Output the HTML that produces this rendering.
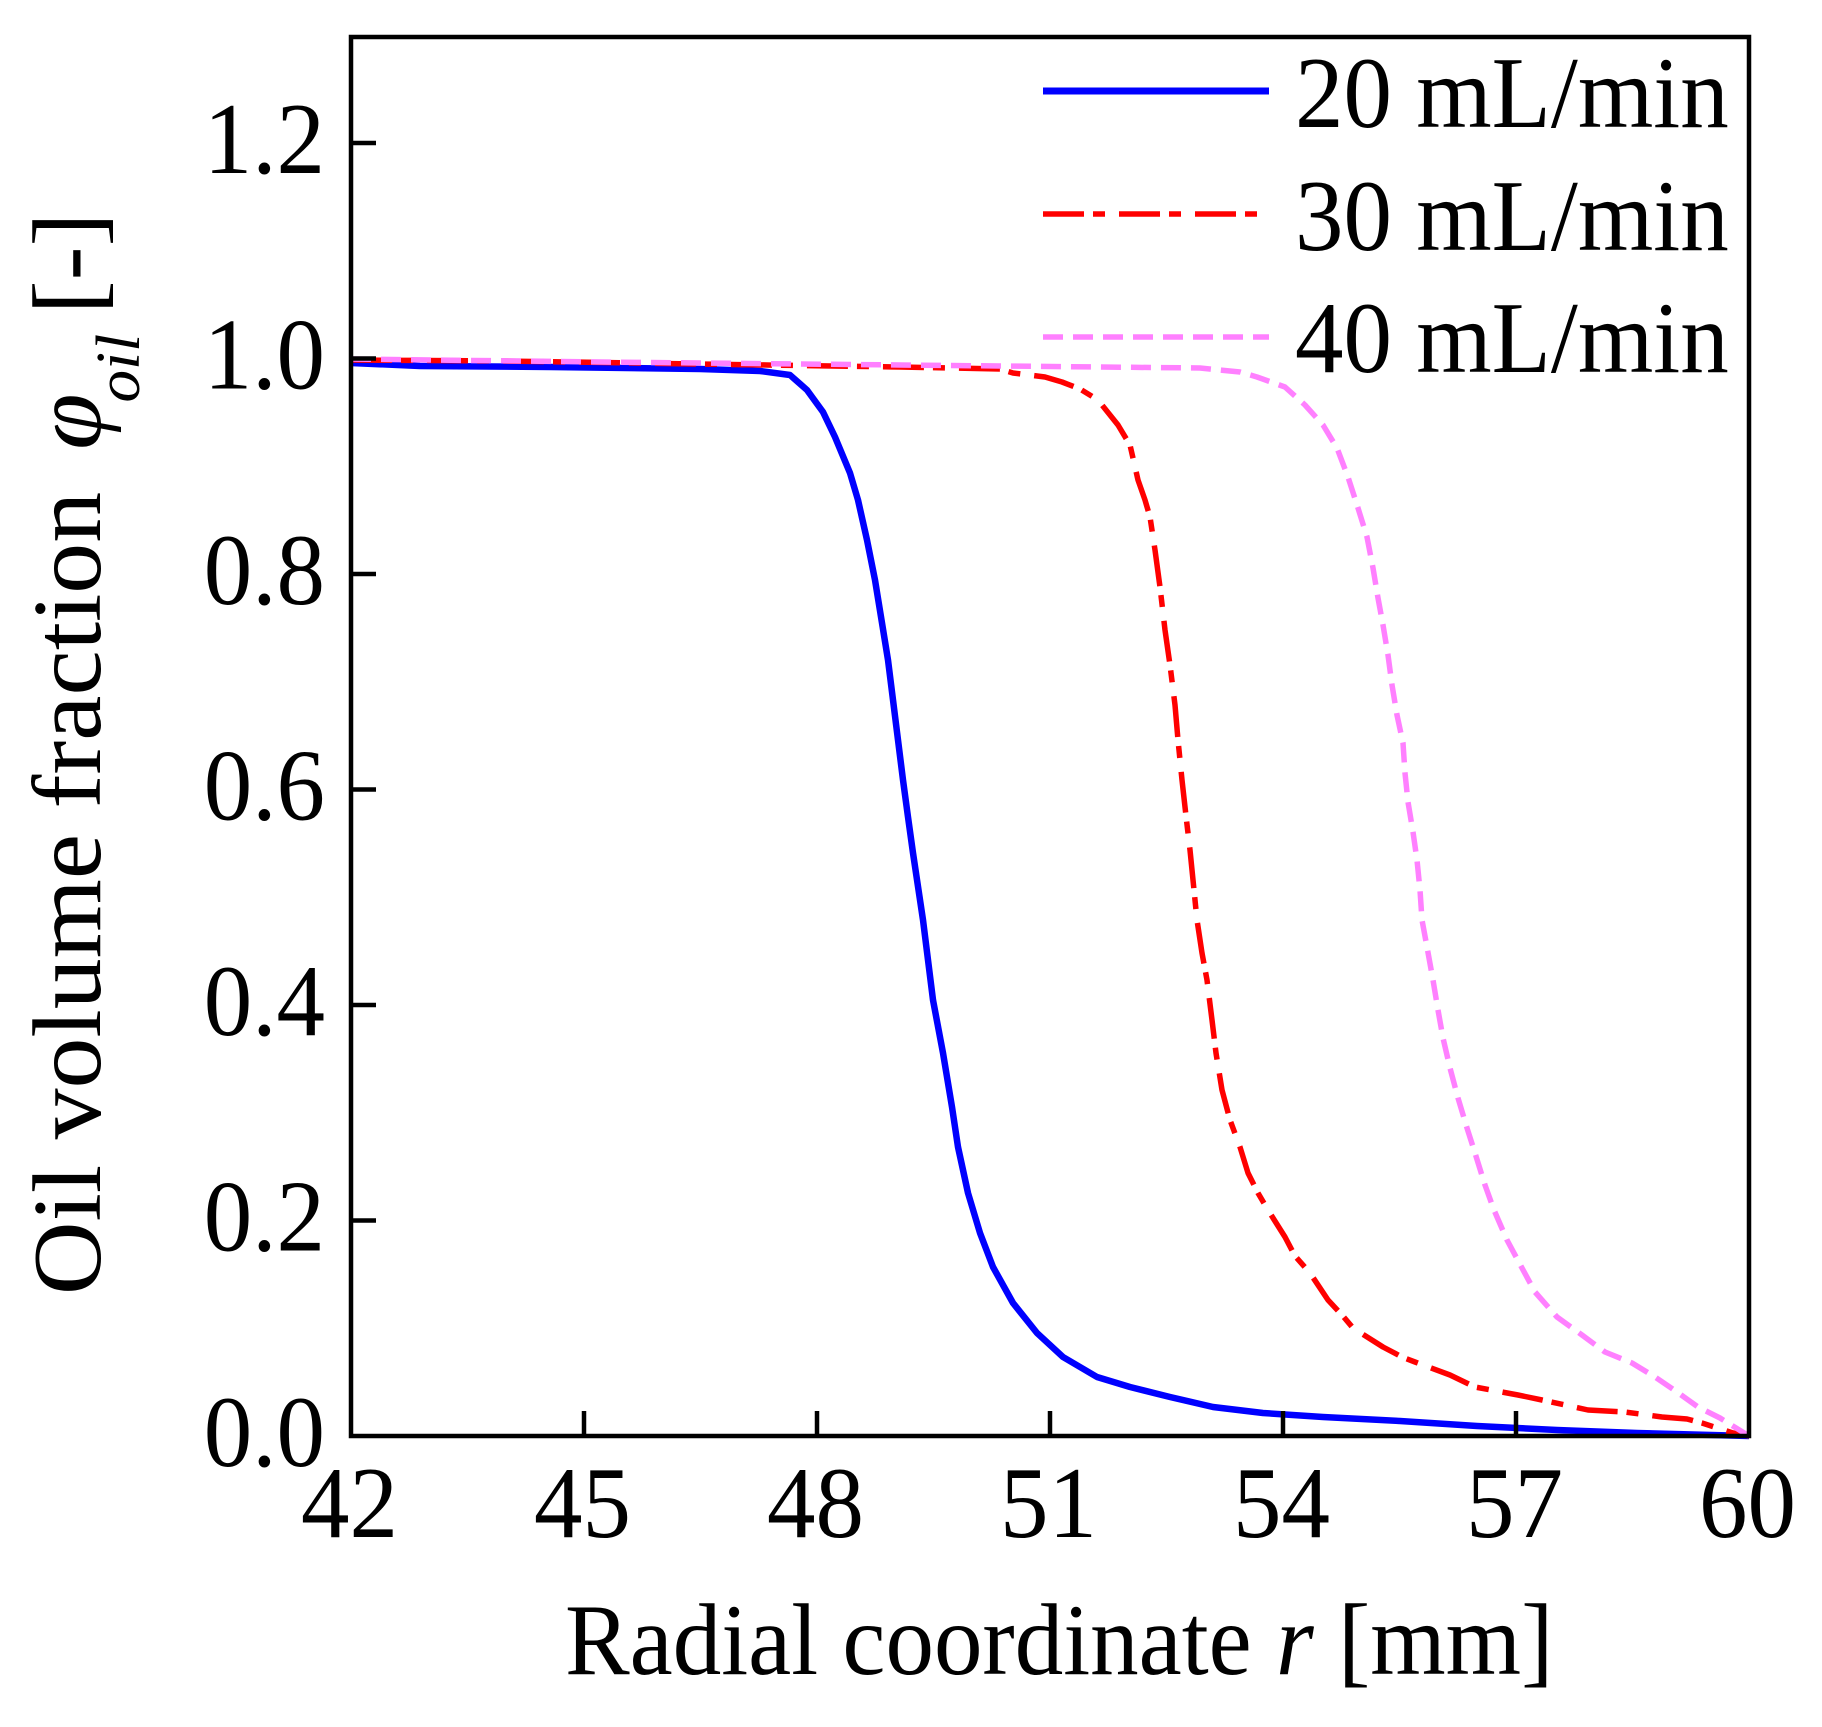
<!DOCTYPE html>
<html>
<head>
<meta charset="utf-8">
<style>
html,body{margin:0;padding:0;background:#fff;}
svg{display:block;}
text{font-family:"Liberation Serif","Times New Roman",serif;fill:#000;}
</style>
</head>
<body>
<svg width="1822" height="1727" viewBox="0 0 1822 1727" xmlns="http://www.w3.org/2000/svg">
<rect x="0" y="0" width="1822" height="1727" fill="#fff"/>

<!-- curves -->
<polyline fill="none" stroke="#0000ff" stroke-width="6.5" stroke-linejoin="round" stroke-linecap="butt"
points="351,363 420,366 550,367 700,369 760,371 790,375 807,390 823,412 835,437 850,473 858,500 867,540 875,580 882,623 888,660 893,700 898,740 903,780 908,817 913,853 923,920 933,1000 943,1053 952,1107 958,1147 968,1193 980,1233 993,1267 1013,1303 1037,1333 1063,1357 1097,1377 1130,1387 1170,1397 1213,1407 1263,1413 1323,1417 1400,1421 1477,1426 1557,1430 1637,1433 1749,1436"/>

<polyline fill="none" stroke="#ff0000" stroke-width="5.5" stroke-linejoin="round" stroke-dasharray="41 9 12 14"
points="351,360 500,361 700,364 900,367 1000,369 1013,373 1045,377 1062,382 1080,389 1098,400 1118,425 1130,445 1138,480 1145,500 1150,517 1155,550 1160,587 1165,630 1170,665 1175,705 1178,740 1182,780 1186,816 1190,850 1197,920 1202,953 1207,980 1212,1020 1216,1053 1222,1090 1230,1120 1240,1147 1248,1173 1258,1193 1268,1210 1285,1237 1295,1256 1310,1273 1328,1300 1342,1315 1353,1328 1383,1347 1402,1357 1415,1362 1450,1375 1475,1387 1518,1395 1542,1400 1588,1410 1625,1412 1662,1417 1687,1419 1702,1423 1733,1433 1749,1436"/>

<polyline fill="none" stroke="#ff80ff" stroke-width="5.5" stroke-linejoin="round" stroke-dasharray="20 10"
points="351,359 600,362 900,365 1200,368 1240,372 1257,377 1285,387 1305,405 1323,425 1337,448 1348,477 1358,508 1367,537 1373,568 1378,598 1383,625 1388,655 1392,685 1397,715 1403,743 1405,773 1408,802 1413,832 1417,860 1420,890 1422,920 1427,947 1433,980 1438,1010 1443,1038 1450,1068 1458,1098 1467,1128 1475,1153 1485,1185 1494,1210 1507,1240 1522,1268 1535,1292 1557,1317 1582,1335 1605,1352 1632,1363 1655,1377 1677,1392 1698,1407 1720,1418 1749,1436"/>

<!-- frame -->
<rect x="351" y="37" width="1398" height="1399" fill="none" stroke="#000" stroke-width="4.5"/>

<!-- x ticks -->
<g stroke="#000" stroke-width="4.5">
<line x1="584" y1="1436" x2="584" y2="1411"/>
<line x1="817" y1="1436" x2="817" y2="1411"/>
<line x1="1050" y1="1436" x2="1050" y2="1411"/>
<line x1="1283" y1="1436" x2="1283" y2="1411"/>
<line x1="1516" y1="1436" x2="1516" y2="1411"/>
<!-- y ticks -->
<line x1="351" y1="143" x2="376" y2="143"/>
<line x1="351" y1="358.5" x2="376" y2="358.5"/>
<line x1="351" y1="574" x2="376" y2="574"/>
<line x1="351" y1="789.5" x2="376" y2="789.5"/>
<line x1="351" y1="1005" x2="376" y2="1005"/>
<line x1="351" y1="1220.5" x2="376" y2="1220.5"/>
</g>

<!-- y tick labels -->
<g font-size="97" text-anchor="end">
<text transform="translate(325,173) scale(1,1.05)">1.2</text>
<text transform="translate(325,388.5) scale(1,1.05)">1.0</text>
<text transform="translate(325,604) scale(1,1.05)">0.8</text>
<text transform="translate(325,819.5) scale(1,1.05)">0.6</text>
<text transform="translate(325,1035) scale(1,1.05)">0.4</text>
<text transform="translate(325,1250.5) scale(1,1.05)">0.2</text>
<text transform="translate(325,1466) scale(1,1.05)">0.0</text>
</g>

<!-- x tick labels -->
<g font-size="97" text-anchor="middle">
<text transform="translate(349.5,1537) scale(1,1.05)">42</text>
<text transform="translate(582.5,1537) scale(1,1.05)">45</text>
<text transform="translate(815.5,1537) scale(1,1.05)">48</text>
<text transform="translate(1048.5,1537) scale(1,1.05)">51</text>
<text transform="translate(1281.5,1537) scale(1,1.05)">54</text>
<text transform="translate(1514.5,1537) scale(1,1.05)">57</text>
<text transform="translate(1747.5,1537) scale(1,1.05)">60</text>
</g>

<!-- x title -->
<text font-size="97" transform="translate(565,1674) scale(1,1.05)">Radial coordinate <tspan font-style="italic">r</tspan> [mm]</text>

<!-- y title -->
<g transform="translate(100,1295) rotate(-90) scale(1.05,1)">
<text font-size="97" x="0" y="0">Oil volume fraction</text>
<text font-size="97" font-style="italic" x="805" y="0">φ</text>
<text font-size="62" font-style="italic" x="850" y="39">oil</text>
<text font-size="97" x="934" y="0">[-]</text>
</g>

<!-- legend -->
<line x1="1043" y1="91" x2="1269" y2="91" stroke="#0000ff" stroke-width="7"/>
<line x1="1043" y1="214" x2="1269" y2="214" stroke="#ff0000" stroke-width="5.5" stroke-dasharray="41 9 12 14"/>
<line x1="1043" y1="337" x2="1269" y2="337" stroke="#ff80ff" stroke-width="5.5" stroke-dasharray="20 10"/>
<g font-size="97">
<text transform="translate(1295,127) scale(1,1.05)">20 mL/min</text>
<text transform="translate(1295,250) scale(1,1.05)">30 mL/min</text>
<text transform="translate(1295,372) scale(1,1.05)">40 mL/min</text>
</g>
</svg>
</body>
</html>
